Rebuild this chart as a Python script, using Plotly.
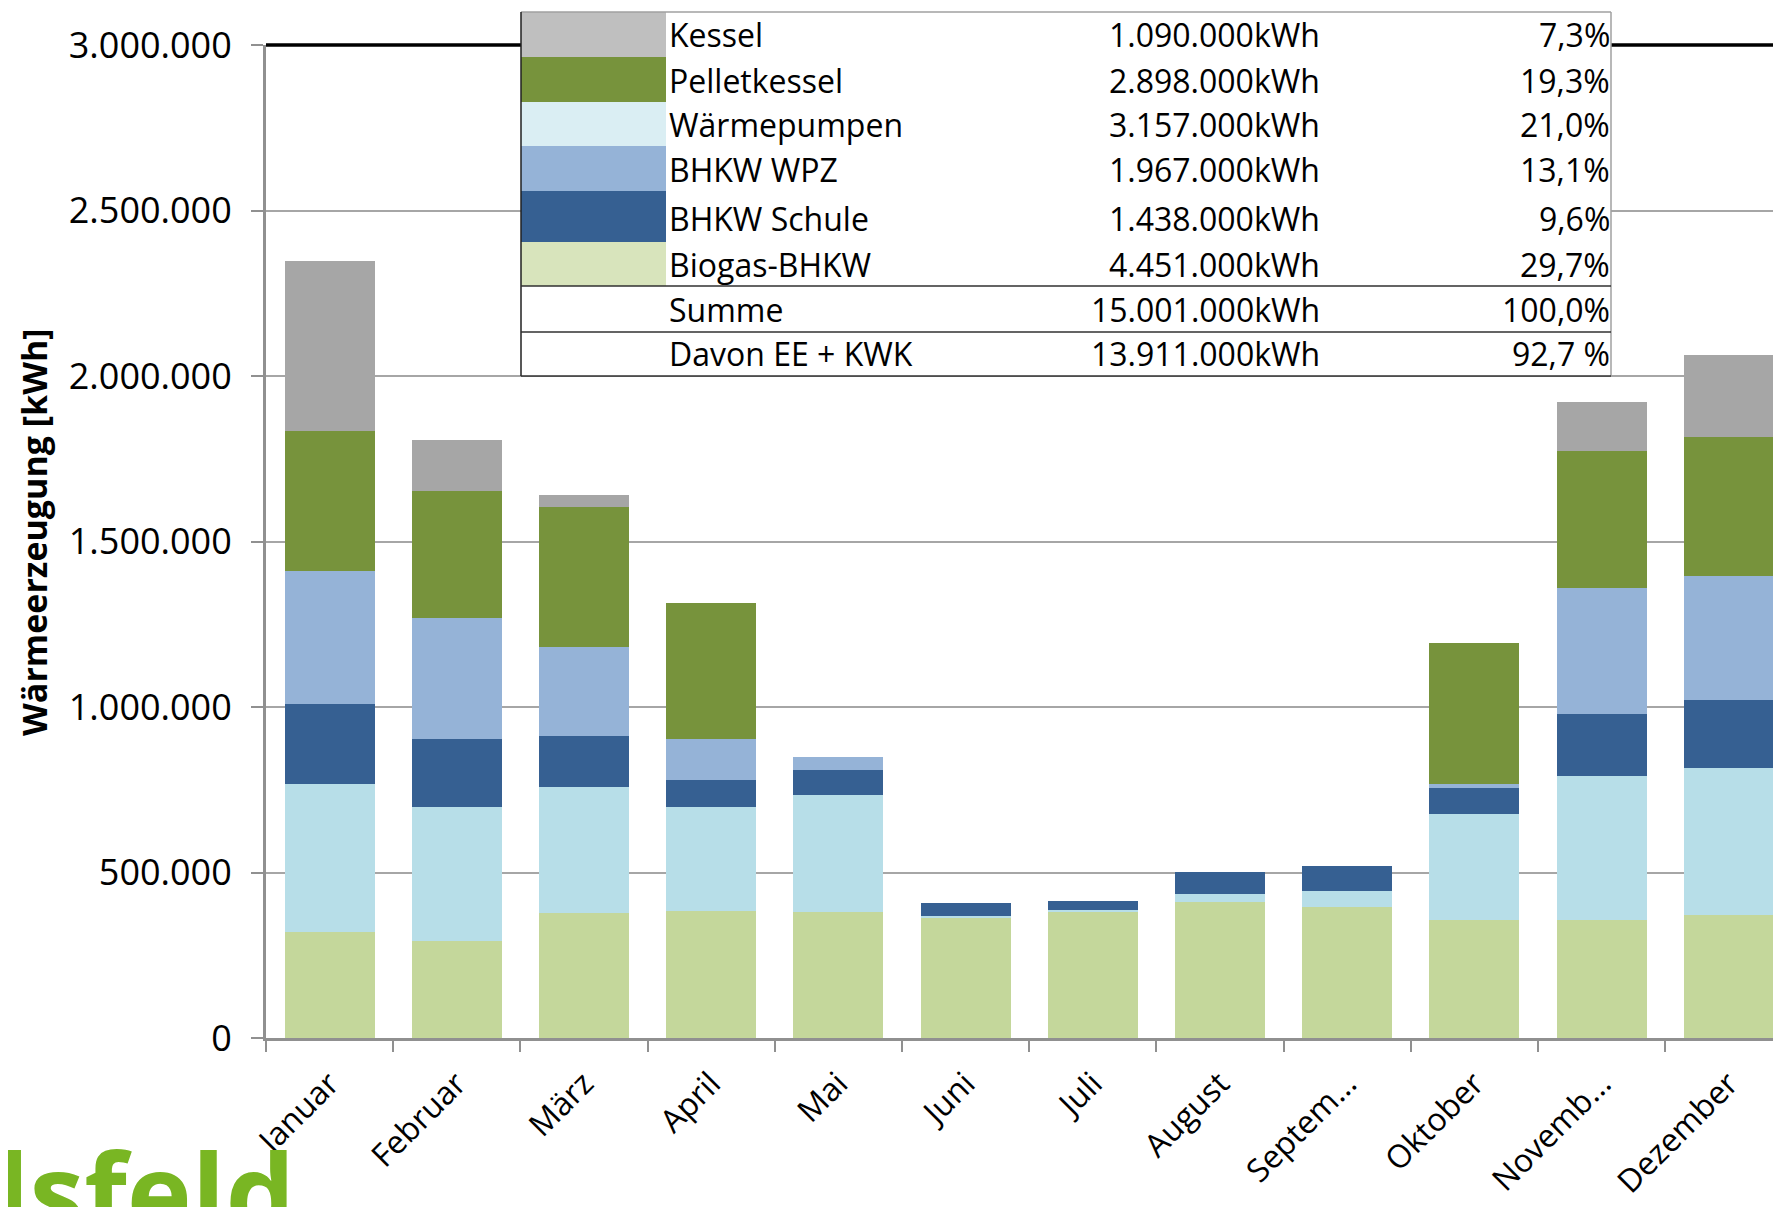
import plotly.graph_objects as go

# ---------------- data ----------------
months = ["Januar", "Februar", "März", "April", "Mai", "Juni", "Juli",
          "August", "Septem...", "Oktober", "Novemb...", "Dezember"]

biogas      = [320000, 294000, 377000, 385000, 382000, 364000, 381000, 410000, 396000, 357000, 357000, 371000]
waermepumpe = [448000, 405000, 382000, 314000, 351000,   5000,   7000,  24000,  47000, 319000, 435000, 446000]
bhkw_schule = [240000, 203000, 152000,  79000,  77000,  38000,  27000,  67000,  76000,  78000, 186000, 203000]
bhkw_wpz    = [403000, 368000, 269000, 124000,  39000,      0,      0,      0,      0,  14000, 381000, 375000]
pellet      = [424000, 382000, 424000, 411000,      0,      0,      0,      0,      0, 425000, 415000, 421000]
kessel      = [512000, 156000,  36000,      0,      0,      0,      0,      0,      0,      0, 146000, 246000]

y_ticks = [0, 500000, 1000000, 1500000, 2000000, 2500000, 3000000]

# summary table (legend)
table_names   = ["Kessel", "Pelletkessel", "Wärmepumpen", "BHKW WPZ", "BHKW Schule", "Biogas-BHKW",
                 "Summe", "Davon EE + KWK"]
table_amounts = ["1.090.000kWh", "2.898.000kWh", "3.157.000kWh", "1.967.000kWh", "1.438.000kWh",
                 "4.451.000kWh", "15.001.000kWh", "13.911.000kWh"]
table_percent = ["7,3%", "19,3%", "21,0%", "13,1%", "9,6%", "29,7%", "100,0%", "92,7 %"]

# ---------------- styles ----------------
bar_colors = {
    "Biogas-BHKW": "#c4d79b",
    "Wärmepumpen": "#b7dee8",
    "BHKW Schule": "#366092",
    "BHKW WPZ": "#95b3d7",
    "Pelletkessel": "#77933c",
    "Kessel": "#a6a6a6",
}
swatch_colors = ["#bfbfbf", "#77933c", "#daeef3", "#95b3d7", "#366092", "#d8e4bc"]

FONT = "Open Sans"
OFF = 8                      # browser body margin
W, H = 1781 - OFF, 1207 - OFF
L, R, T, B = 266 - OFF, 1781 - OFF, 45 - OFF, 1038 - OFF   # plot area in figure pixels


def px(x):
    """page pixel x -> paper"""
    return (x - OFF - L) / (R - L)


def py(y):
    """page pixel y -> paper"""
    return (B - (y - OFF)) / (B - T)


fig = go.Figure()
series = [("Biogas-BHKW", biogas), ("Wärmepumpen", waermepumpe), ("BHKW Schule", bhkw_schule),
          ("BHKW WPZ", bhkw_wpz), ("Pelletkessel", pellet), ("Kessel", kessel)]
for name, vals in series:
    fig.add_trace(go.Bar(x=months, y=vals, name=name, marker_color=bar_colors[name],
                         marker_line_width=0, showlegend=False))

cat_w = 127.2
x_max = -0.5 + (R - L) / cat_w

shapes = []
# black top line at 3.000.000
shapes.append(dict(type="line", xref="paper", yref="paper", x0=0, x1=1, y0=1, y1=1,
                   line=dict(color="black", width=3.5), layer="above"))

# table geometry (page pixels)
tx0, tx1, sw1 = 521, 1611, 666
row_edges = [12, 57, 102, 146, 191, 242, 286, 332, 376]
text_y = [35, 80, 124, 169, 219, 264, 309, 354]

shapes.append(dict(type="rect", xref="paper", yref="paper", x0=px(tx0), x1=px(tx1),
                   y0=py(row_edges[-1]), y1=py(row_edges[0]), fillcolor="white",
                   line=dict(width=0), layer="above"))
for i, c in enumerate(swatch_colors):
    shapes.append(dict(type="rect", xref="paper", yref="paper", x0=px(tx0), x1=px(sw1),
                       y0=py(row_edges[i + 1]), y1=py(row_edges[i]), fillcolor=c,
                       line=dict(width=0), layer="above"))
# borders
shapes.append(dict(type="line", xref="paper", yref="paper", x0=px(tx0), x1=px(tx1),
                   y0=py(row_edges[0]), y1=py(row_edges[0]), line=dict(color="#a0a0a0", width=1.5), layer="above"))
shapes.append(dict(type="line", xref="paper", yref="paper", x0=px(tx1), x1=px(tx1),
                   y0=py(row_edges[0]), y1=py(row_edges[-1]), line=dict(color="#a0a0a0", width=1.5), layer="above"))
shapes.append(dict(type="line", xref="paper", yref="paper", x0=px(tx0), x1=px(tx0),
                   y0=py(row_edges[0]), y1=py(row_edges[-1]), line=dict(color="#202020", width=1.5), layer="above"))
for e in row_edges[6:]:
    shapes.append(dict(type="line", xref="paper", yref="paper", x0=px(tx0), x1=px(tx1),
                       y0=py(e), y1=py(e), line=dict(color="#303030", width=1.5), layer="above"))

annotations = []
for i in range(len(table_names)):
    yy = py(text_y[i])
    annotations.append(dict(xref="paper", yref="paper", x=px(667), y=yy, text=table_names[i],
                            xanchor="left", yanchor="middle", showarrow=False,
                            font=dict(family=FONT, size=32, color="black")))
    annotations.append(dict(xref="paper", yref="paper", x=px(1322), y=yy, text=table_amounts[i],
                            xanchor="right", yanchor="middle", showarrow=False,
                            font=dict(family=FONT, size=32, color="black")))
    annotations.append(dict(xref="paper", yref="paper", x=px(1612), y=yy, text=table_percent[i],
                            xanchor="right", yanchor="middle", showarrow=False,
                            font=dict(family=FONT, size=32, color="black")))

# y-axis title
annotations.append(dict(xref="paper", yref="paper", x=px(34), y=py(532), text="<b>Wärmeerzeugung [kWh]</b>",
                        textangle=-90, xanchor="center", yanchor="middle", showarrow=False,
                        font=dict(family=FONT, size=34, color="black")))
# partial logo bottom left
annotations.append(dict(xref="paper", yref="paper", x=px(-6), y=py(1190), text="<b>lsfeld</b>",
                        xanchor="left", yanchor="middle", showarrow=False,
                        font=dict(family=FONT, size=110, color="#79b623")))

fig.update_layout(
    width=W, height=H, autosize=False,
    margin=dict(l=L, r=W - R, t=T, b=H - B, pad=0, autoexpand=False),
    barmode="stack", bargap=0.292,
    plot_bgcolor="white", paper_bgcolor="white",
    separators=",.",
    font=dict(family=FONT, color="black"),
    shapes=shapes, annotations=annotations,
    xaxis=dict(type="category", range=[-0.5, x_max], tickson="boundaries", ticks="outside",
               ticklen=11, tickwidth=2, tickcolor="#909090", showline=True, linecolor="#909090",
               linewidth=3, showgrid=False, tickangle=-45, ticklabelstandoff=11, automargin=False,
               tickfont=dict(family=FONT, size=32, color="black")),
    yaxis=dict(range=[0, 3000000], tickvals=y_ticks, tickformat=",d", ticks="outside",
               ticklen=12, tickwidth=2, tickcolor="#909090", showline=True, linecolor="#909090",
               linewidth=3, showgrid=True, gridcolor="#a6a6a6", gridwidth=2, zeroline=False,
               automargin=False,
               ticklabelstandoff=12, tickfont=dict(family=FONT, size=36, color="black")),
)

fig.write_html("out.html")
